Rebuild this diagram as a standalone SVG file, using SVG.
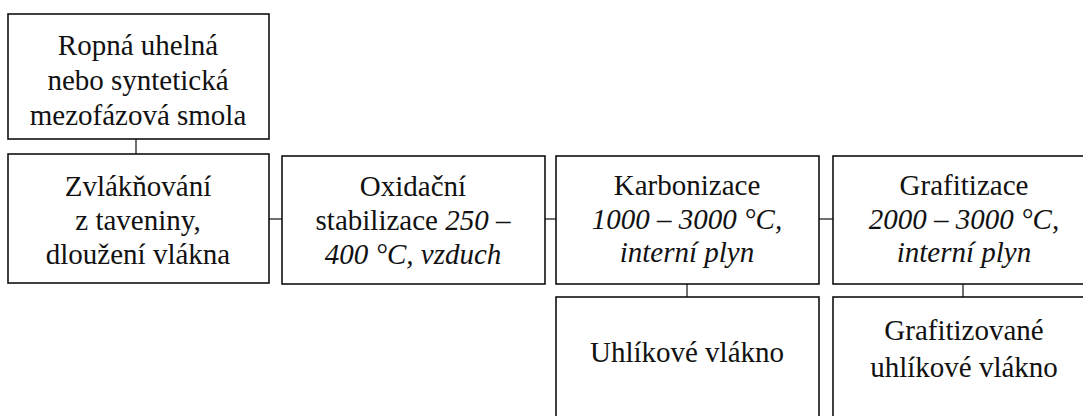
<svg xmlns="http://www.w3.org/2000/svg" width="1083" height="416" viewBox="0 0 1083 416">
<style>
.box{fill:#fff;stroke:#111;stroke-width:1.6}
.ln{stroke:#111;stroke-width:1.2;fill:none}
text{font-family:"Liberation Serif","Times New Roman",serif;font-size:29px;fill:#111;text-anchor:middle}
.i{font-style:italic}
</style>
<rect width="1083" height="416" fill="#fff"/>
<g id="connectors">
<line class="ln" x1="136" y1="139" x2="136" y2="154"/>
<line class="ln" x1="269" y1="219" x2="282" y2="219"/>
<line class="ln" x1="545" y1="219" x2="556" y2="219"/>
<line class="ln" x1="819" y1="219" x2="833" y2="219"/>
<line class="ln" x1="687" y1="284" x2="687" y2="297"/>
<line class="ln" x1="963" y1="284" x2="963" y2="297"/>
</g>
<g id="n1">
<rect class="box" x="8" y="14" width="261" height="125"/>
<text x="138" y="55">Ropná uhelná</text>
<text x="138" y="90">nebo syntetická</text>
<text x="138" y="125">mezofázová smola</text>
</g>
<g id="n2">
<rect class="box" x="8" y="154" width="261" height="129"/>
<text x="138" y="196">Zvlákňování</text>
<text x="138" y="230">z taveniny,</text>
<text x="138" y="264">dloužení vlákna</text>
</g>
<g id="n3">
<rect class="box" x="282" y="156" width="263" height="128"/>
<text x="413" y="196">Oxidační</text>
<text x="413" y="230">stabilizace <tspan class="i">250 –</tspan></text>
<text x="413" y="264" class="i">400 °C, vzduch</text>
</g>
<g id="n4">
<rect class="box" x="556" y="156" width="263" height="128"/>
<text x="687" y="195">Karbonizace</text>
<text x="687" y="229" class="i">1000 – 3000 °C,</text>
<text x="687" y="262" class="i">interní plyn</text>
</g>
<g id="n5">
<rect class="box" x="833" y="156" width="263" height="128"/>
<text x="964" y="195">Grafitizace</text>
<text x="964" y="229" class="i">2000 – 3000 °C,</text>
<text x="964" y="262" class="i">interní plyn</text>
</g>
<g id="n6">
<rect class="box" x="556" y="297" width="263" height="130"/>
<text x="687" y="362">Uhlíkové vlákno</text>
</g>
<g id="n7">
<rect class="box" x="833" y="297" width="263" height="130"/>
<text x="964" y="340">Grafitizované</text>
<text x="964" y="377">uhlíkové vlákno</text>
</g>
</svg>
